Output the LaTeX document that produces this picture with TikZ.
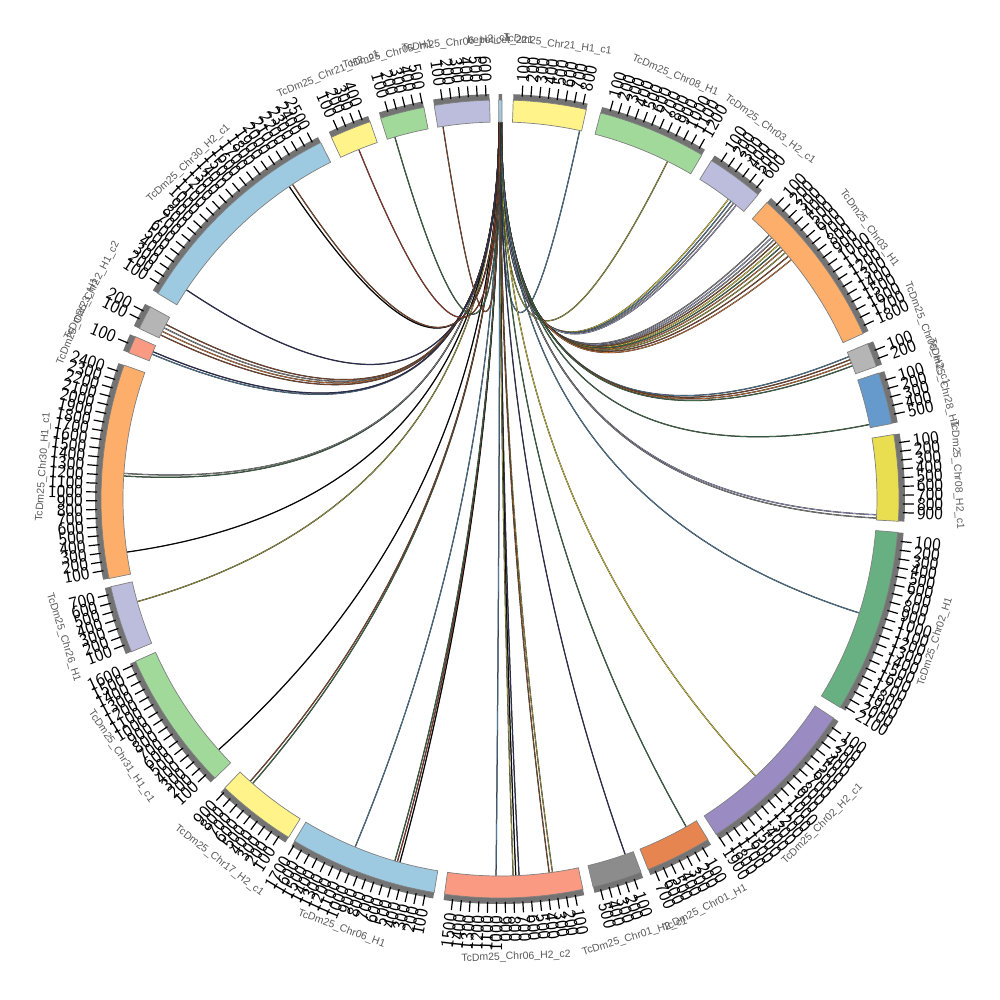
\documentclass[tikz,border=0pt]{standalone}
\usepackage{fontspec}
\setmainfont{Liberation Sans}
\usetikzlibrary{calc}

\definecolor{yelA}{HTML}{FFF38A}
\definecolor{yelB}{HTML}{E8DE50}
\definecolor{grnA}{HTML}{A1D99B}
\definecolor{grnB}{HTML}{68B081}
\definecolor{lavA}{HTML}{BCBDDC}
\definecolor{purA}{HTML}{9A8BC2}
\definecolor{orgA}{HTML}{FDAE6B}
\definecolor{orgB}{HTML}{E6854F}
\definecolor{gryA}{HTML}{B5B5B5}
\definecolor{gryB}{HTML}{8C8C8C}
\definecolor{bluA}{HTML}{9ECAE1}
\definecolor{bluB}{HTML}{6699CC}
\definecolor{salA}{HTML}{FB9A82}
\definecolor{tinyA}{HTML}{A8C8DC}
\definecolor{cBlue}{HTML}{4F7FA0}
\definecolor{cBrown}{HTML}{8B4A2B}
\definecolor{cOlive}{HTML}{9C9A3A}
\definecolor{cGold}{HTML}{D8C83A}
\definecolor{cGreen}{HTML}{3F6F4A}
\definecolor{cLav}{HTML}{9C9CC8}
\definecolor{cGray}{HTML}{8A8A8A}
\definecolor{cOrange}{HTML}{C8743A}
\definecolor{cNavy}{HTML}{2E2E5E}
\definecolor{cRed}{HTML}{9A3A2A}

\tikzset{
  segbox/.style={fill=#1, draw=black!50, line width=0.7pt},
  bandbox/.style={fill=black!55, draw=none},
  tickline/.style={line width=1.2pt, draw=black},
  ticklab/.style={font=\sffamily\fontsize{18.5}{18.5}\selectfont, inner sep=0pt},
  chrlab/.style={font=\fontsize{10.5}{12}\selectfont, text=black!65, inner sep=0pt},
  chord/.style={draw=black!85, line width=0.3pt, double=#1, double distance=0.65pt},
}

\begin{document}
\begin{tikzpicture}[x=1pt, y=1pt]
\useasboundingbox (-500,-501) rectangle (500,499);

% links from the small top contig
\foreach \h/\d/\col [count=\j] in {
  360.00/12.2/cBlue, 360.05/26.4/cOlive,
  360.10/37.3/cGold, 360.10/37.8/cBlue, 360.10/38.3/cGray, 360.15/38.8/cLav,
  360.15/45.6/cGray, 360.15/46.1/cLav, 360.20/46.6/cGray, 360.20/47.1/cBrown,
  360.20/47.6/cGold, 360.20/48.1/cGreen, 360.25/48.6/cOrange, 360.25/49.2/cOlive,
  360.25/49.9/cBrown, 360.25/50.6/cOrange,
  360.20/67.8/cBlue, 360.20/68.3/cBrown, 360.20/68.8/cOrange, 360.20/69.3/cGreen,
  360.15/78.6/cGreen, 360.10/92.4/cLav, 360.10/92.9/cGray,
  360.10/107.6/cBlue, 360.05/137.3/cGold, 360.05/150.4/cGreen, 360.00/160.6/cNavy,
  360.00/172.0/cOlive, 360.00/172.5/cBrown,
  360.00/177.1/cNavy, 359.95/177.6/black, 359.95/178.0/cOlive, 359.95/180.6/cBlue,
  359.90/195.4/black, 359.90/195.8/cRed, 359.90/196.2/cGreen, 359.90/202.6/cBlue,
  359.90/221.0/cGreen, 359.90/221.5/cBrown, 359.85/228.3/black,
  359.85/254.2/cOlive, 359.85/261.9/black, 359.85/273.5/cGreen, 359.85/273.9/cGray,
  359.85/292.6/cBlue, 359.85/293.0/cNavy,
  359.85/295.8/cBrown, 359.85/296.4/cOrange, 359.85/297.0/cGray, 359.85/297.6/cBrown,
  359.85/303.7/cNavy, 359.90/326.0/black, 359.90/326.6/cBrown,
  359.90/338.0/cRed, 359.95/343.8/cGreen, 359.95/351.3/cBrown}{
  \coordinate (hub\j) at (90-\h:377);
  \coordinate (end\j) at (90-\d:377);
  \draw[chord=\col] (hub\j) .. controls (90-\h:125.7) and (90-\d:125.7) .. (end\j);
}

% contigs: start/end angle (clockwise from top), colour, name
\foreach \sa/\sb/\col/\lab [count=\i] in {
  359.8/360.3/tinyA/bepeticet\_221,
  1.9/12.5/yelA/TcDm25\_Chr21\_H1\_c1,
  14.6/30.4/grnA/TcDm25\_Chr08\_H1,
  32.0/40.3/lavA/TcDm25\_Chr03\_H2\_c1,
  42.0/65.5/orgA/TcDm25\_Chr03\_H1,
  67.1/70.6/gryA/TcDm25\_Chr05\_H2\_c1,
  71.6/79.1/bluB/TcDm25\_Chr28\_H1,
  80.7/93.2/yelB/TcDm25\_Chr08\_H2\_c1,
  94.8/121.5/grnB/TcDm25\_Chr02\_H1,
  123.3/147.2/purA/TcDm25\_Chr02\_H2\_c1,
  148.6/158.2/orgB/TcDm25\_Chr01\_H1,
  159.3/166.5/gryB/TcDm25\_Chr01\_H2\_c1,
  168.0/188.0/salA/TcDm25\_Chr06\_H2\_c2,
  189.5/211.0/bluA/TcDm25\_Chr06\_H1,
  212.0/223.6/yelA/TcDm25\_Chr17\_H2\_c1,
  225.6/246.0/grnA/TcDm25\_Chr31\_H1\_c1,
  247.5/257.3/lavA/TcDm25\_Chr26\_H1,
  258.5/289.6/orgA/TcDm25\_Chr30\_H1\_c1,
  291.5/294.0/salA/TcDm25\_Chr23\_H1,
  295.3/298.8/gryA/TcDm25\_Chr22\_H1\_c2,
  301.0/333.3/bluA/TcDm25\_Chr30\_H2\_c1,
  335.0/341.0/yelA/TcDm25\_Chr21\_H2\_c1,
  342.6/349.0/grnA/TcDm25\_Chr05\_H1,
  350.5/358.5/lavA/TcDm25\_Chr06\_H2\_c1}{
  \draw[bandbox] (90-\sa:398) arc[start angle=90-\sa, end angle=90-\sb, radius=398]
    -- (90-\sb:405) arc[start angle=90-\sb, end angle=90-\sa, radius=405] -- cycle;
  \draw[segbox=\col] (90-\sa:377) arc[start angle=90-\sa, end angle=90-\sb, radius=377]
    -- (90-\sb:399) arc[start angle=90-\sb, end angle=90-\sa, radius=399] -- cycle;
  \pgfmathtruncatemacro\nt{ceil((\sb-\sa)/1.25)-1}
  \ifnum\nt>0
    \foreach \k in {1,...,\nt}{
      \pgfmathsetmacro\t{\sa+\k*1.25}
      \pgfmathtruncatemacro\side{mod(\t,360)<180 ? 1 : 0}
      \draw[tickline] (90-\t:403) -- (90-\t:414);
      \ifnum\side=1
        \node[ticklab, rotate=90-\t, anchor=west] (tk\i-\k) at (90-\t:417) {\k00};
      \else
        \node[ticklab, rotate=270-\t, anchor=east] (tk\i-\k) at (90-\t:417) {\k00};
      \fi
    }
  \fi
  \pgfmathsetmacro\m{mod((\sa+\sb)/2,360)}
  \pgfmathsetmacro\rot{(\m>90 && \m<270) ? 180-\m : -\m}
  \node[chrlab, rotate=\rot] (lab\i) at (90-\m:458) {\lab};
}
\end{tikzpicture}
\end{document}
